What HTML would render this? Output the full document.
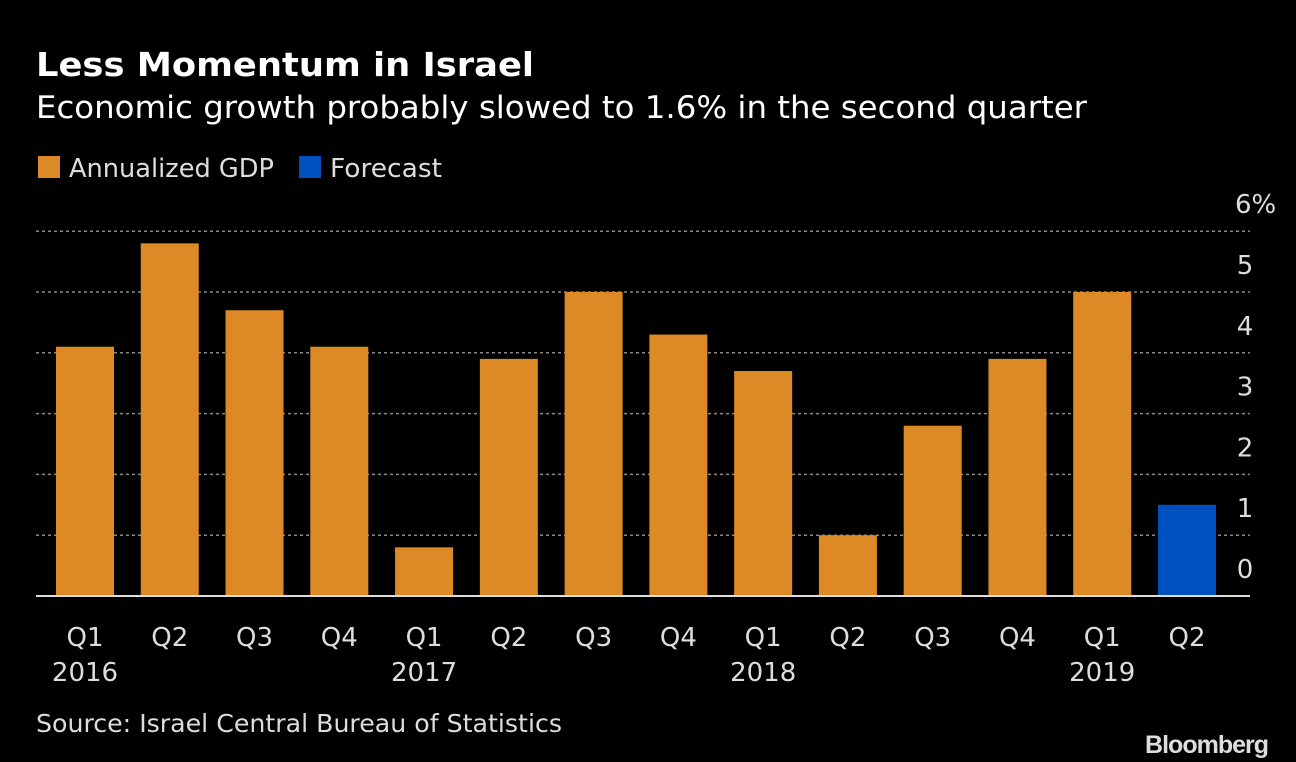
<!DOCTYPE html>
<html><head><meta charset="utf-8"><style>
body{margin:0;background:#000;width:1296px;height:762px;overflow:hidden;font-family:"DejaVu Sans","Liberation Sans",sans-serif}
svg{display:block}
</style></head><body>
<svg id="c" width="1296" height="762">
<text x="36" y="76" fill="#fff" font-size="33" font-weight="bold" textLength="498" lengthAdjust="spacingAndGlyphs">Less Momentum in Israel</text>
<text x="36" y="118" fill="#fff" font-size="31" textLength="1051" lengthAdjust="spacingAndGlyphs">Economic growth probably slowed to 1.6% in the second quarter</text>
<g>
<rect x="38" y="156" width="22" height="22" fill="#DD8A26"/>
<text x="69" y="177" fill="#ddd" font-size="26" textLength="205" lengthAdjust="spacingAndGlyphs">Annualized GDP</text>
<rect x="299" y="156" width="22" height="22" fill="#0050C0"/>
<text x="330" y="177" fill="#ddd" font-size="26" textLength="112" lengthAdjust="spacingAndGlyphs">Forecast</text>
</g>
<g id="grid"></g><g id="bars"></g><g id="axes"></g>
<text x="36" y="732" fill="#ddd" font-size="25" textLength="526" lengthAdjust="spacingAndGlyphs">Source: Israel Central Bureau of Statistics</text>
<text x="1268" y="753" fill="#ddd" font-size="25" font-weight="bold" text-anchor="end" letter-spacing="-1" font-family="Liberation Sans">Bloomberg</text>
</svg>
<script>
const quarters=["Q1","Q2","Q3","Q4","Q1","Q2","Q3","Q4","Q1","Q2","Q3","Q4","Q1","Q2"];
const years=["2016","","","","2017","","","","2018","","","","2019",""];
const gdp=[4.1,5.8,4.7,4.1,0.8,3.9,5.0,4.3,3.7,1.0,2.8,3.9,5.0,null];
const forecast=[null,null,null,null,null,null,null,null,null,null,null,null,null,1.5];
const yTicks=[0,1,2,3,4,5,6];
const yLabels=["0","1","2","3","4","5","6%"];
const NS="http://www.w3.org/2000/svg";
const y0=596,pxPer=60.8,x0=85,step=84.77,bw=58;
const ys=v=>y0-v*pxPer, xs=i=>x0+i*step;
function mk(t,a,p){const e=document.createElementNS(NS,t);for(const k in a)e.setAttribute(k,a[k]);p.appendChild(e);return e;}
const g=document.getElementById('grid'),b=document.getElementById('bars'),ax=document.getElementById('axes');
yTicks.forEach((v,i)=>{
 if(v>0){const l=mk('line',{x1:36,x2:1250,y1:ys(v),y2:ys(v),stroke:'#888','stroke-width':1.5,'stroke-dasharray':'3,3'},g);
 
 }
 const t=mk('text',{x:v==6?1235:1245,y:ys(v)-18,fill:'#ddd','font-size':26,'text-anchor':v==6?'start':'middle'},ax);
 t.textContent=yLabels[i];
 
 
});
quarters.forEach((q,i)=>{
 const v=gdp[i]!=null?gdp[i]:forecast[i];
 const r=mk('rect',{x:xs(i)-bw/2,y:ys(v),width:bw,height:y0-ys(v),fill:gdp[i]!=null?'#DD8A26':'#0050C0'},b);
 
 
 const t=mk('text',{x:xs(i),y:646,fill:'#ddd','font-size':26,'text-anchor':'middle'},ax);
 t.textContent=q;
 
 
 if(years[i]){const yt=mk('text',{x:xs(i),y:681,fill:'#ddd','font-size':26,'text-anchor':'middle'},ax);
 yt.textContent=years[i];
 
 }
});
const base=mk('line',{x1:36,x2:1250,y1:y0,y2:y0,stroke:'#ddd','stroke-width':2},ax);


</script>
</body></html>
